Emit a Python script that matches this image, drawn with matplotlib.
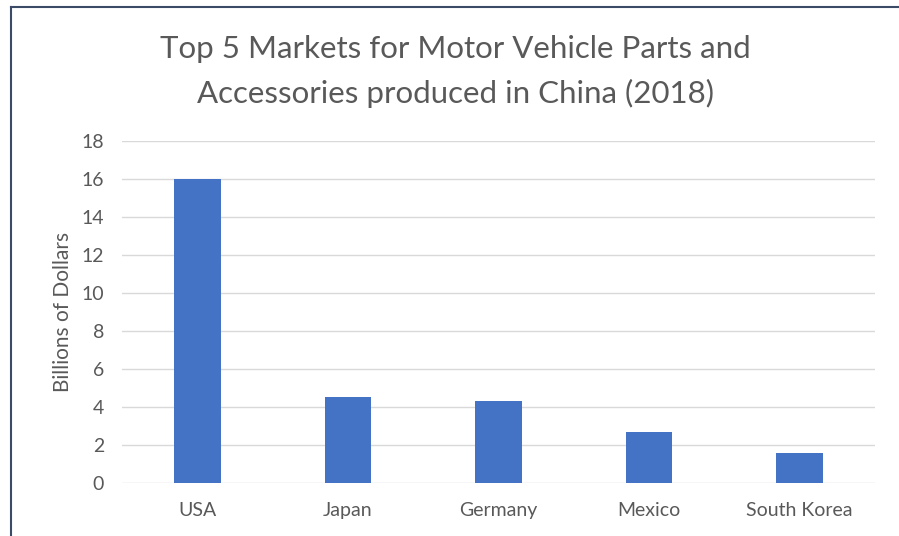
import matplotlib.pyplot as plt
from matplotlib.lines import Line2D

# data
markets = ["USA", "Japan", "Germany", "Mexico", "South Korea"]
values = [16.0, 4.5, 4.3, 2.7, 1.6]
y_ticks = [0, 2, 4, 6, 8, 10, 12, 14, 16, 18]

plt.rcParams['font.family'] = ['Lato', 'DejaVu Sans']
text_color = '#595959'

fig = plt.figure(figsize=(8.99, 5.36), dpi=100)
ax = fig.add_axes([0.1357, 0.0989, 0.8376, 0.6381])

ax.bar(range(len(markets)), values, width=0.31, color='#4472C4', zorder=3)

ax.set_xlim(-0.5, len(markets) - 0.5)
ax.set_ylim(0, 18)
ax.set_yticks(y_ticks)
ax.set_xticks(range(len(markets)))
ax.set_xticklabels(markets)
ax.tick_params(axis='both', length=0, colors=text_color, labelsize=14)
ax.tick_params(axis='x', pad=14)
ax.tick_params(axis='y', pad=13)
ax.grid(axis='y', color='#D9D9D9', linewidth=1, zorder=0)
for s in ax.spines.values():
    s.set_visible(False)

ax.set_ylabel("Billions of Dollars", color=text_color, fontsize=15, labelpad=6)

# chart title, two lines
fig.text(0.507, 0.908, "Top 5 Markets for Motor Vehicle Parts and", ha='center', va='center',
         fontsize=22.5, color=text_color)
fig.text(0.507, 0.826, "Accessories produced in China (2018)", ha='center', va='center',
         fontsize=22.5, color=text_color)

# border of the chart area (left and top edges visible)
fig.add_artist(Line2D([0.0122, 0.0122], [0, 0.987], transform=fig.transFigure, color='#3B4A66', lw=1.5))
fig.add_artist(Line2D([0.0122, 1.0], [0.987, 0.987], transform=fig.transFigure, color='#3B4A66', lw=1.5))

fig.savefig("out.png", dpi=100)
